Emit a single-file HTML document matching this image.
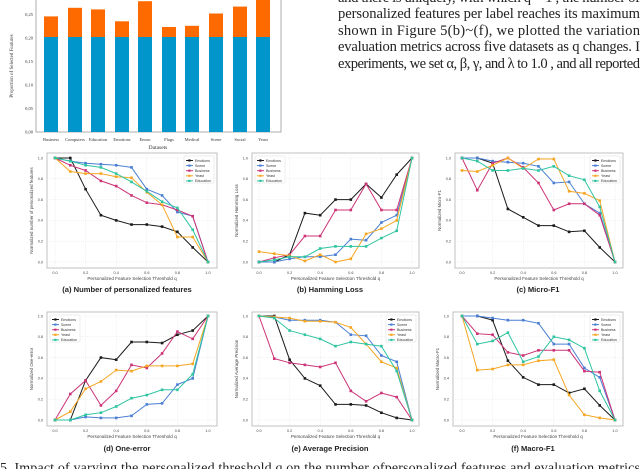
<!DOCTYPE html>
<html><head><meta charset="utf-8"><style>
html,body{margin:0;padding:0;background:#fff;width:640px;height:469px;overflow:hidden}
</style></head><body>
<svg id="s" width="640" height="469" xmlns="http://www.w3.org/2000/svg" style="display:block;font-family:'Liberation Sans',sans-serif">
<rect width="640" height="469" fill="#fff"/>
<g font-family="Liberation Serif,serif" font-size="14.6" fill="#222">
<text x="338" y="2" textLength="302" lengthAdjust="spacing">and there is uniquely, with which q = 1 , the number of</text>
<text x="338" y="18" textLength="302" lengthAdjust="spacing">personalized features per label reaches its maximum</text>
<text x="338" y="35" textLength="302" lengthAdjust="spacing">shown in Figure 5(b)~(f), we plotted the variation</text>
<text x="338" y="51" textLength="302" lengthAdjust="spacing">evaluation metrics across five datasets as q changes. I</text>
<text x="338" y="68" textLength="302" lengthAdjust="spacing">experiments, we set α, β, γ, and λ to 1.0 , and all reported</text>
<text x="0" y="472" font-size="14" textLength="640" lengthAdjust="spacing">5. Impact of varying the personalized threshold q on the number ofpersonalized features and evaluation metrics</text>
</g>
</svg>
<script>
const s=document.getElementById('s');let h='';
// bar chart
const bx0=36,bx1=281,by0=132,pp=23.5/0.05;
h+=`<rect x="${bx0}" y="-5" width="${bx1-bx0}" height="${by0+5}" fill="none" stroke="#999" stroke-width="0.8"/>`;
[0,0.05,0.1,0.15,0.2,0.25].forEach(v=>{const y=by0-v*pp;h+=`<text x="${bx0-3}" y="${y+1.5}" font-size="4.5" text-anchor="end" font-family="Liberation Serif,serif" fill="#333">${v.toFixed(2).replace('.',',')}</text>`;});
const names=['Business','Computers','Education','Emotions','Enron','Flags','Medical','Scene','Social','Yeast'];
const tops=[16.4,7.8,9.4,21.3,1.2,27,25.8,13.5,6.6,-3];
const cx=[51,75,98,122,145,169,192,216,240,263];
names.forEach((n,i)=>{h+=`<rect x="${cx[i]-7}" y="${tops[i]}" width="14" height="${37-tops[i]}" fill="#ff6a00"/><rect x="${cx[i]-7}" y="37" width="14" height="${by0-37}" fill="#0096cc"/><text x="${cx[i]}" y="141" font-size="4.5" text-anchor="middle" font-family="Liberation Serif,serif" fill="#333">${n}</text>`;});
h+=`<text x="158" y="149" font-size="5.5" text-anchor="middle" font-family="Liberation Serif,serif" fill="#333">Datasets</text>`;
h+=`<text transform="translate(13,66) rotate(-90)" font-size="5" text-anchor="middle" font-family="Liberation Serif,serif" fill="#333">Proportion of Selected Features</text>`;
const C={Emotions:'#1a1a1a',Scene:'#4a7fd4',Business:'#cc3377',Yeast:'#f5a623',Education:'#2ec4a0'};
function panel(fx0,fx1,fy0,fy1,x0,x1,y1,y0,data,leg,ylab,title,tx,ty){
 h+=`<rect x="${fx0}" y="${fy0}" width="${fx1-fx0}" height="${fy1-fy0}" fill="#fff" stroke="#bbb" stroke-width="0.9"/>`;
 const X=t=>x0+(x1-x0)*t, Y=v=>y0+(y1-y0)*v;
 for(let i=0;i<=5;i++){const v=i/5;h+=`<line x1="${fx0}" x2="${fx1}" y1="${Y(v)}" y2="${Y(v)}" stroke="#e4e4e4" stroke-width="0.5" stroke-dasharray="1,1"/><line y1="${fy0}" y2="${fy1}" x1="${X(v)}" x2="${X(v)}" stroke="#e4e4e4" stroke-width="0.5" stroke-dasharray="1,1"/>`;
 h+=`<text x="${fx0-4}" y="${Y(v)+1.3}" font-size="3.8" text-anchor="end" fill="#444">${v.toFixed(1)}</text><text x="${X(v)}" y="${fy1+6}" font-size="3.8" text-anchor="middle" fill="#444">${v.toFixed(1)}</text>`;}
 h+=`<text x="${(fx0+fx1)/2}" y="${fy1+12}" font-size="4.6" text-anchor="middle" fill="#444">Personalized Feature Selection Threshold q</text>`;
 h+=`<text transform="translate(${fx0-14},${(fy0+fy1)/2}) rotate(-90)" font-size="4.4" text-anchor="middle" fill="#444">${ylab}</text>`;
 Object.keys(data).forEach(k=>{const d=data[k];let p=d.map((v,i)=>`${X(i/10).toFixed(1)},${Y(v).toFixed(1)}`).join(' ');
  h+=`<polyline points="${p}" fill="none" stroke="${C[k]}" stroke-width="1"/>`;
  d.forEach((v,i)=>{h+=`<rect x="${X(i/10)-1.3}" y="${Y(v)-1.3}" width="2.6" height="2.6" fill="${C[k]}"/>`;});});
 const lx=leg=='l'?fx0+3:fx1-33, ly=fy0+3;
 h+=`<rect x="${lx}" y="${ly}" width="30" height="27" fill="#fff" stroke="#ddd" stroke-width="0.5" rx="1"/>`;
 Object.keys(C).forEach((k,i)=>{const yy=ly+4.5+i*5.1;h+=`<line x1="${lx+2}" x2="${lx+9}" y1="${yy}" y2="${yy}" stroke="${C[k]}" stroke-width="1"/><rect x="${lx+4.3}" y="${yy-1.1}" width="2.2" height="2.2" fill="${C[k]}"/><text x="${lx+11}" y="${yy+1.3}" font-size="3.6" fill="#333">${k}</text>`;});
 h+=`<text x="${tx}" y="${ty}" font-size="7.6" font-weight="bold" text-anchor="middle" fill="#222">${title}</text>`;
}
panel(47,217,153,268,55,208,158,262,{
Emotions:[1,1,.70,.45,.40,.36,.36,.34,.29,.14,0],
Scene:[1,.97,.95,.94,.93,.91,.70,.64,.48,.44,0],
Business:[1,.93,.88,.78,.73,.64,.57,.55,.50,.44,0],
Yeast:[1,.87,.85,.85,.82,.81,.67,.55,.24,.24,0],
Education:[1,.97,.93,.91,.85,.77,.68,.58,.52,.31,0]},'r','Normalized number of personalized features','(a) Number of personalized features',127,292);
panel(252,419,153,268,259,412,158,262,{
Emotions:[0,0,.07,.47,.45,.60,.60,.75,.62,.84,1],
Scene:[0,0,.03,.05,.05,.07,.22,.21,.38,.45,1],
Business:[0,.04,.07,.25,.25,.50,.50,.75,.50,.50,1],
Yeast:[.10,.08,.06,.01,.07,0,.03,.27,.32,.40,1],
Education:[0,.02,.05,.05,.13,.15,.15,.15,.23,.30,1]},'l','Normalized Hamming Loss','(b) Hamming Loss',330,292);
panel(455,623,153,268,462,615,158,262,{
Emotions:[1,1,.95,.51,.43,.35,.35,.29,.30,.14,0],
Scene:[1,1,.97,.96,.95,.92,.76,.77,.56,.47,0],
Business:[1,.69,.95,1,.91,.76,.50,.56,.56,.45,0],
Yeast:[.88,.87,.93,1,.90,.99,.99,.68,.66,.59,0],
Education:[1,.97,.88,.88,.90,.88,.92,.83,.79,.53,0]},'r','Normalized Micro-F1','(c) Micro-F1',538,292);
panel(47,217,312,426,55,208,316,420,{
Emotions:[0,0,.38,.60,.58,.75,.75,.74,.82,.86,1],
Scene:[0,0,.03,.02,.02,.04,.15,.16,.34,.40,1],
Business:[0,.25,.38,.14,.28,.53,.50,.64,.85,.78,1],
Yeast:[0,.08,.30,.37,.48,.47,.52,.52,.52,.54,1],
Education:[0,0,.05,.07,.13,.21,.24,.29,.29,.44,1]},'l','Normalized One-error','(d) One-error',127,451);
panel(252,419,312,426,259,412,316,420,{
Emotions:[1,1,.58,.40,.33,.15,.15,.14,.07,.02,0],
Scene:[1,.99,.96,.96,.96,.94,.82,.81,.62,.56,0],
Business:[1,.59,.55,.53,.51,.55,.28,.18,.26,.22,0],
Yeast:[1,.99,.98,.95,.95,.94,.89,.73,.56,.50,0],
Education:[1,.98,.86,.82,.78,.71,.75,.73,.71,.47,0]},'r','Normalized Average Precision','(e) Average Precision',330,451);
panel(453,623,312,426,462,615,316,420,{
Emotions:[1,1,.96,.57,.41,.34,.34,.26,.30,.14,0],
Scene:[1,1,.98,.96,.96,.93,.73,.73,.50,.41,0],
Business:[1,.83,.82,.65,.62,.67,.67,.67,.47,.46,0],
Yeast:[1,.48,.49,.53,.53,.57,.58,.24,.05,.02,0],
Education:[1,.73,.76,.84,.56,.61,.80,.77,.69,.28,0]},'r','Normalized Macro-F1','(f) Macro-F1',533,451);
s.insertAdjacentHTML('beforeend',h);
</script>
</body></html>
